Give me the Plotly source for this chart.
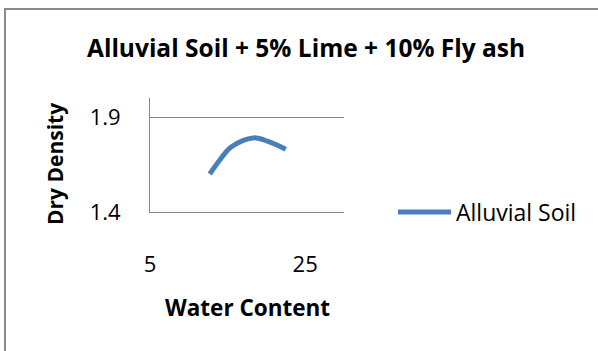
import plotly.graph_objects as go

# Compaction curve: water content (%) vs dry density (g/cc)
water_content = [12.7, 14.0, 15.5, 18.3, 20.3, 22.5]
dry_density = [1.60, 1.674, 1.743, 1.790, 1.770, 1.730]
series_name = "Alluvial Soil"
chart_title = "Alluvial Soil + 5% Lime + 10% Fly ash"
x_title = "Water Content"
y_title = "Dry Density"
x_ticks = [5, 25]
y_ticks = [1.4, 1.9]

W, H = 598, 351
L, R, T, B = 150, 254, 98, 139
pw, ph = W - L - R, H - T - B


def px_x(p):
    return (p - L) / pw


def px_y(p):
    return (H - B - p) / ph


FONT = "Open Sans"
GRID = "#868686"
BLUE = "#4A7EBB"

fig = go.Figure()
fig.add_trace(go.Scatter(
    x=water_content, y=dry_density, mode="lines", name=series_name,
    line=dict(color=BLUE, width=5, shape="spline", smoothing=1.0),
))

fig.update_layout(
    width=W, height=H,
    margin=dict(l=L, r=R, t=T, b=B),
    paper_bgcolor="white", plot_bgcolor="white",
    font=dict(family=FONT, color="black", size=22),
    showlegend=True,
    legend=dict(x=px_x(393), y=px_y(212), xanchor="left", yanchor="middle",
                font=dict(size=23, family=FONT), bgcolor="rgba(0,0,0,0)",
                itemwidth=53),
    xaxis=dict(range=[5, 30], tickvals=x_ticks, showgrid=False,
               showline=True, linecolor=GRID, linewidth=1,
               ticks="", ticklabelstandoff=33, zeroline=False,
               tickfont=dict(size=22)),
    yaxis=dict(range=[1.4, 2.0], tickvals=y_ticks, ticktext=["1.4", "1.9"],
               showgrid=True, gridcolor=GRID, gridwidth=1,
               showline=True, linecolor=GRID, linewidth=1,
               ticks="", ticklabelstandoff=24, zeroline=False,
               tickfont=dict(size=22)),
)

# chart title and axis titles
fig.add_annotation(text=f"<b>{chart_title}</b>", x=px_x(305.5), y=px_y(47.5),
                   xref="paper", yref="paper", showarrow=False,
                   xanchor="center", yanchor="middle",
                   font=dict(size=24.5, family=FONT))
fig.add_annotation(text=f"<b>{x_title}</b>", x=px_x(247), y=px_y(307),
                   xref="paper", yref="paper", showarrow=False,
                   xanchor="center", yanchor="middle",
                   font=dict(size=22.5, family=FONT))
fig.add_annotation(text=f"<b>{y_title}</b>", x=px_x(55), y=px_y(164),
                   xref="paper", yref="paper", showarrow=False,
                   xanchor="center", yanchor="middle", textangle=-90,
                   font=dict(size=21, family=FONT))

# chart frame
fig.add_shape(type="rect", xref="paper", yref="paper",
              x0=px_x(5), x1=px_x(W + 10), y0=px_y(H + 10), y1=px_y(9),
              line=dict(color="#8A8A8A", width=2), layer="below")

fig.write_html("out.html")
